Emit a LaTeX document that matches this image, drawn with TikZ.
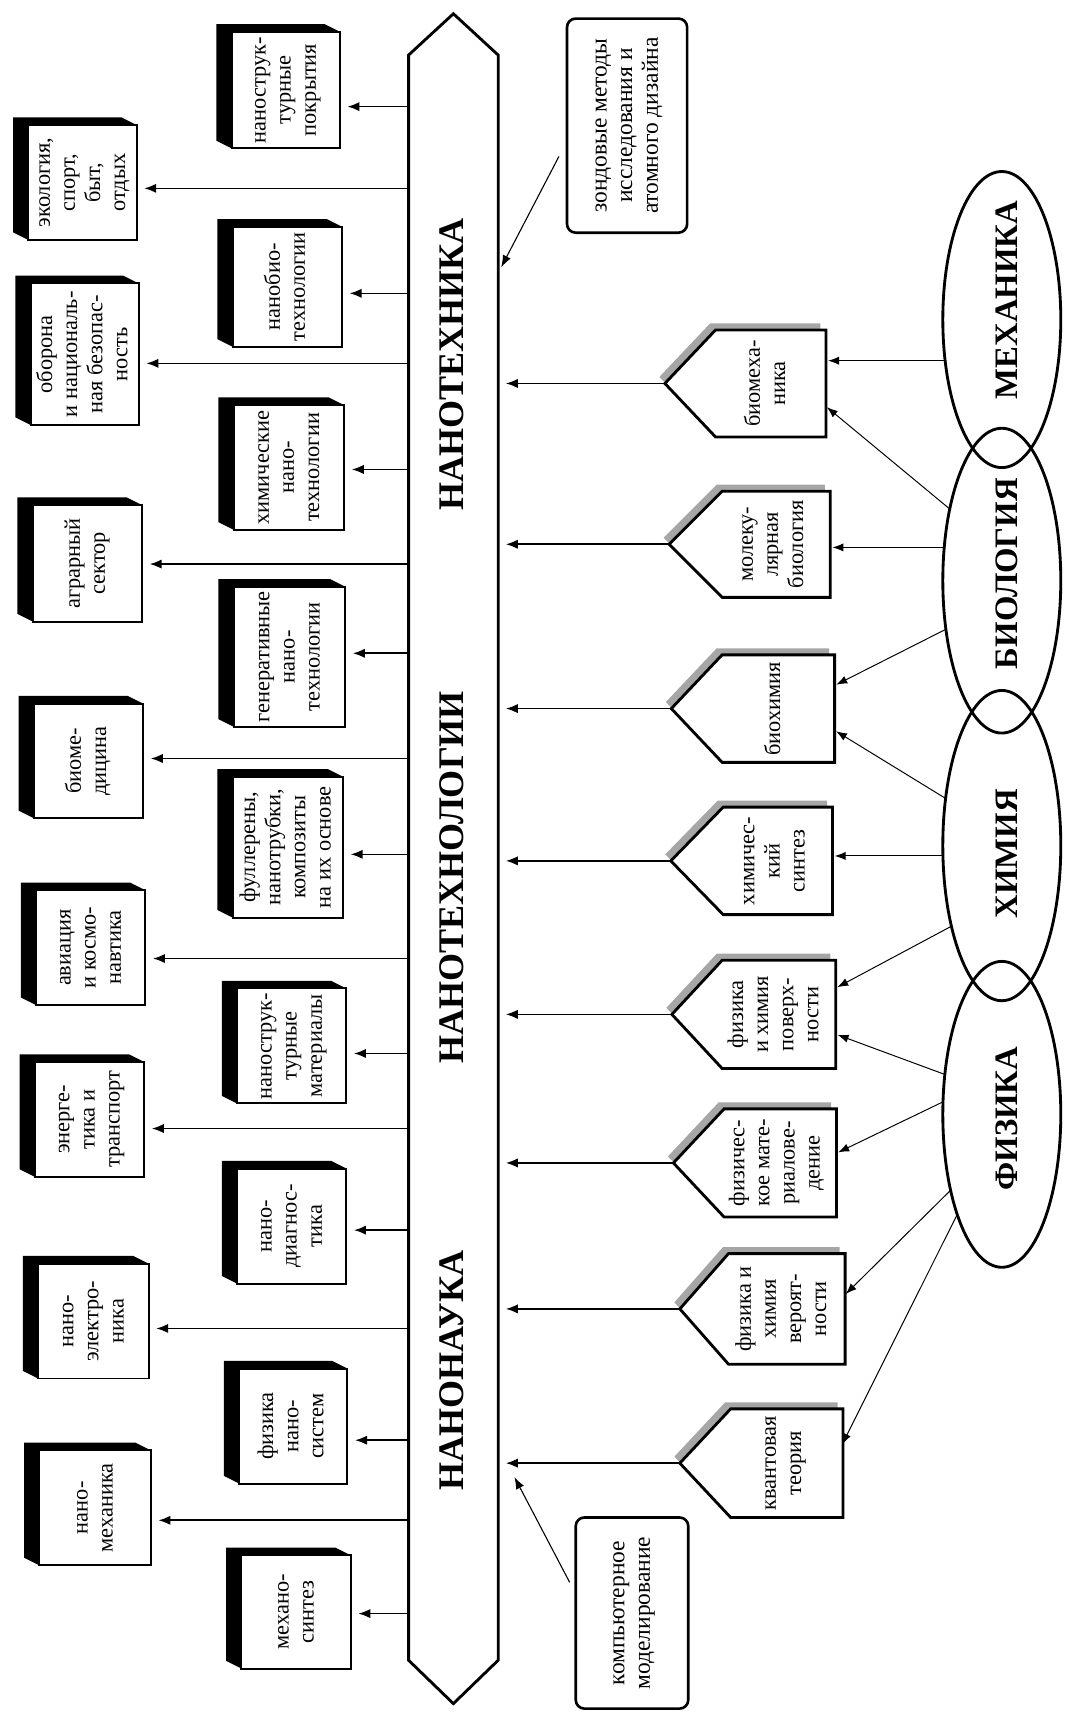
\documentclass[tikz,border=0pt]{standalone}
\usepackage{fontspec}
\setmainfont{Liberation Serif}
\usetikzlibrary{arrows.meta,shapes.geometric,calc,backgrounds}
\newcommand\rtx[1]{\rotatebox{90}{\begin{tabular}{@{}c@{}}#1\end{tabular}}}
\newcommand\shbox[6]{%
  \pgfmathsetmacro\bxcx{(#2+#4)/2}%
  \pgfmathsetmacro\bxcy{(#3+#5)/2}%
  \pgfmathsetmacro\bxw{#4-#2}%
  \pgfmathsetmacro\bxh{#5-#3}%
  \node[sbox, minimum width=\bxw pt, minimum height=\bxh pt] (#1) at (\bxcx,\bxcy) {\rtx{#6}};%
  \begin{pgfonlayer}{background}%
    \fill[black] (#1.south west) -- ++(-14,-7) -- ($(#1.north west)+(-14,-7)$) -- ($(#1.north east)+(-14,-7)$) -- (#1.north east) -- cycle;%
  \end{pgfonlayer}}
\newcommand\pent[7]{%
  \pgfmathsetmacro\pgy{(#5+#6)/2}%
  \pgfmathsetmacro\pgx{(#3+#4)/2-3}%
  \pgfmathsetmacro\pgw{#4-#3}%
  \pgfmathsetmacro\pgh{#6-#5}%
  \fill[pshadow] (#2-5,\pgy-6) -- (#3-5,#5-6) -- (#4-5,#5-6) -- (#4-5,#6-6) -- (#3-5,#6-6) -- cycle;%
  \draw[pline] (#2,\pgy) -- (#3,#5) -- (#4,#5) -- (#4,#6) -- (#3,#6) -- cycle;%
  \node[ptext, minimum width=\pgw pt, minimum height=\pgh pt] (#1) at (\pgx,\pgy) {\rtx{#7}};%
  \coordinate (#1tip) at (#2,\pgy);}
\begin{document}
\begin{tikzpicture}[x=1pt,y=-1pt,
  every node/.style={inner sep=0pt, outer sep=0pt},
  sbox/.style={draw, line width=1.8pt, fill=white, font=\fontsize{20.5}{23}\selectfont},
  ptext/.style={font=\fontsize{20.5}{23}\selectfont},
  pline/.style={draw, line width=2.6pt, fill=white, line join=miter},
  pshadow/.style={fill=black!35},
  barline/.style={draw, line width=2.6pt, fill=white},
  bartext/.style={rotate=90, anchor=base, font=\bfseries\fontsize{33}{36}\selectfont},
  etext/.style={rotate=90, anchor=base, font=\bfseries\fontsize{30}{33}\selectfont},
  ell/.style={draw, ellipse, line width=2.6pt, minimum width=108pt},
  callout/.style={draw, line width=2.4pt, rounded corners=8pt, fill=white, font=\fontsize{21.5}{23.5}\selectfont},
  conn/.style={line width=1.5pt, -{Latex[length=11pt,width=8.5pt]}, shorten >=7pt},
  thinarr/.style={line width=0.9pt, -{Latex[length=10pt,width=7.5pt]}, shorten >=5pt},
  callarr/.style={line width=1pt, -{Latex[length=11pt,width=8pt]}}
]
\begin{pgfonlayer}{background}
\fill[white] (0,0) rectangle (975,1568);
\end{pgfonlayer}
\useasboundingbox (0,0) rectangle (975,1568);

% main bar
\node[minimum width=82pt, minimum height=1469.3pt] (bar) at (415,785.05) {};
\draw[barline] (bar.north west) -- (415,12.6) -- (bar.north east) -- (bar.south east) -- (415,1559.4) -- (bar.south west) -- cycle;
\node[bartext] (t1) at (424.4,333.5) {НАНОТЕХНИКА};
\node[bartext] (t2) at (424.4,803) {НАНОТЕХНОЛОГИИ};
\node[bartext] (t3) at (424.4,1254.5) {НАНОНАУКА};

% inner column
\shbox{i1}{212}{29}{311}{135.8}{нанострук-\\турные\\покрытия}
\shbox{i2}{213}{207.5}{313}{317.4}{нанобио-\\технологии}
\shbox{i3}{214}{370.8}{315}{485}{химические\\нано-\\технологии}
\shbox{i4}{214}{537}{316}{665.3}{генеративные\\нано-\\технологии}
\shbox{i5}{213}{711}{314}{840}{фуллерены,\\нанотрубки,\\композиты\\на их основе}
\shbox{i6}{217}{904.8}{317}{1010}{нанострук-\\турные\\материалы}
\shbox{i7}{217}{1069.6}{317}{1174.9}{нано-\\диагнос-\\тика}
\shbox{i8}{219}{1252.7}{318}{1358}{физика\\нано-\\систем}
\shbox{i9}{221}{1423.6}{321}{1527.3}{механо-\\синтез}

% outer column
\shbox{o1}{26}{114.4}{125}{219.7}{экология,\\спорт,\\быт,\\отдых}
\shbox{o2}{28}{259.4}{127}{389}{оборона\\и националь-\\ная безопас-\\ность}
\shbox{o3}{30}{462.3}{130}{569}{аграрный\\сектор}
\shbox{o4}{31}{644}{131}{749}{биоме-\\дицина}
\shbox{o5}{33}{814.8}{133}{920}{авиация\\и космо-\\навтика}
\shbox{o6}{32}{972}{132}{1077.3}{энерге-\\тика и\\транспорт}
\shbox{o7}{35}{1156.6}{136}{1261.8}{нано-\\электро-\\ника}
\shbox{o8}{36}{1327.5}{138}{1432.8}{нано-\\механика}

% left connectors
\foreach \n/\yy in {i1/97.6,i2/268.5,i3/429.7,i4/598,i5/782,i6/964.3,i7/1126,i8/1318.3,i9/1477,
                    o1/172.4,o2/332.6,o3/516.3,o4/694.3,o5/877.4,o6/1033,o7/1216,o8/1391.6}
  \draw[conn] (bar.west |- 0,\yy) -- (\n.east |- 0,\yy);

% pentagons
\pent{p1}{608.6}{655}{756}{302}{400}{биомеха-\\ника}
\pent{p2}{612.5}{661}{760}{449.6}{546.8}{молеку-\\лярная\\биология}
\pent{p3}{614.5}{661}{764}{599.4}{697.8}{биохимия}
\pent{p4}{614}{662}{762}{738.8}{837.2}{химичес-\\кий\\синтез}
\pent{p5}{615}{661}{765}{879}{978}{физика\\и химия\\поверх-\\ности}
\pent{p6}{616.4}{662.8}{765.7}{1015}{1114}{физичес-\\кое мате-\\риалове-\\дение}
\pent{p7}{622.3}{666.8}{773.6}{1147.5}{1248.7}{физика и\\химия\\вероят-\\ности}
\pent{p8}{622.3}{668.8}{771.6}{1289.6}{1389}{квантовая\\теория}

\foreach \n in {p1,p2,p3,p4,p5,p6,p7,p8}
  \draw[conn] (\n tip) -- (bar.east |- \n tip);

% ellipses
\node[ell, minimum height=271pt] (mech) at (917,292.5) {};
\node[ell, minimum height=279pt] (bio) at (917,531.5) {};
\node[ell, minimum height=284pt] (chem) at (917,774) {};
\node[ell, minimum height=280pt] (phys) at (917,1020) {};
\node[etext] (mecht) at (931,274.5) {МЕХАНИКА};
\node[etext] (biot) at (931,525) {БИОЛОГИЯ};
\node[etext] (chemt) at (931,781.5) {ХИМИЯ};
\node[etext] (physt) at (931,1024) {ФИЗИКА};

\draw[thinarr] (mech.216) -- (p1.east |- mech.216);
\draw[thinarr] (bio.126) -- (p1.east |- 0,369.5);
\draw[thinarr] (bio.150) -- (p2.east |- bio.150);
\draw[thinarr] (bio.221) -- (p3.east |- 0,629);
\draw[thinarr] (chem.140) -- (p3.east |- 0,666.7);
\draw[thinarr] (chem.190) -- (p4.east |- chem.190);
\draw[thinarr] (chem.238) -- (p5.east |- 0,906);
\draw[thinarr] (phys.145) -- (p5.east |- 0,945.5);
\draw[thinarr] (phys.168) -- (p6.east |- 0,1057);
\draw[thinarr] (phys.236) -- (p7.east |- 0,1188);
\draw[thinarr] (phys.246) -- (p8.east |- 0,1326.6);

% callouts
\node[callout, minimum width=110pt, minimum height=196pt] (c1) at (574,115)
  {\rtx{зондовые методы\\исследования и\\атомного дизайна}\hspace{33pt}};
\node[callout, minimum width=103pt, minimum height=175pt] (c2) at (578.5,1476.5)
  {\rtx{компьютерное\\моделирование}\hspace{20pt}};
\draw[callarr, shorten <=16pt, shorten >=6pt] (c1.west |- 0,129) -- (bar.east |- 0,250);
\draw[callarr, shorten <=12pt, shorten >=32pt] (c2.west |- 0,1459) -- (bar.east |- 0,1323.6);
\end{tikzpicture}
\end{document}
